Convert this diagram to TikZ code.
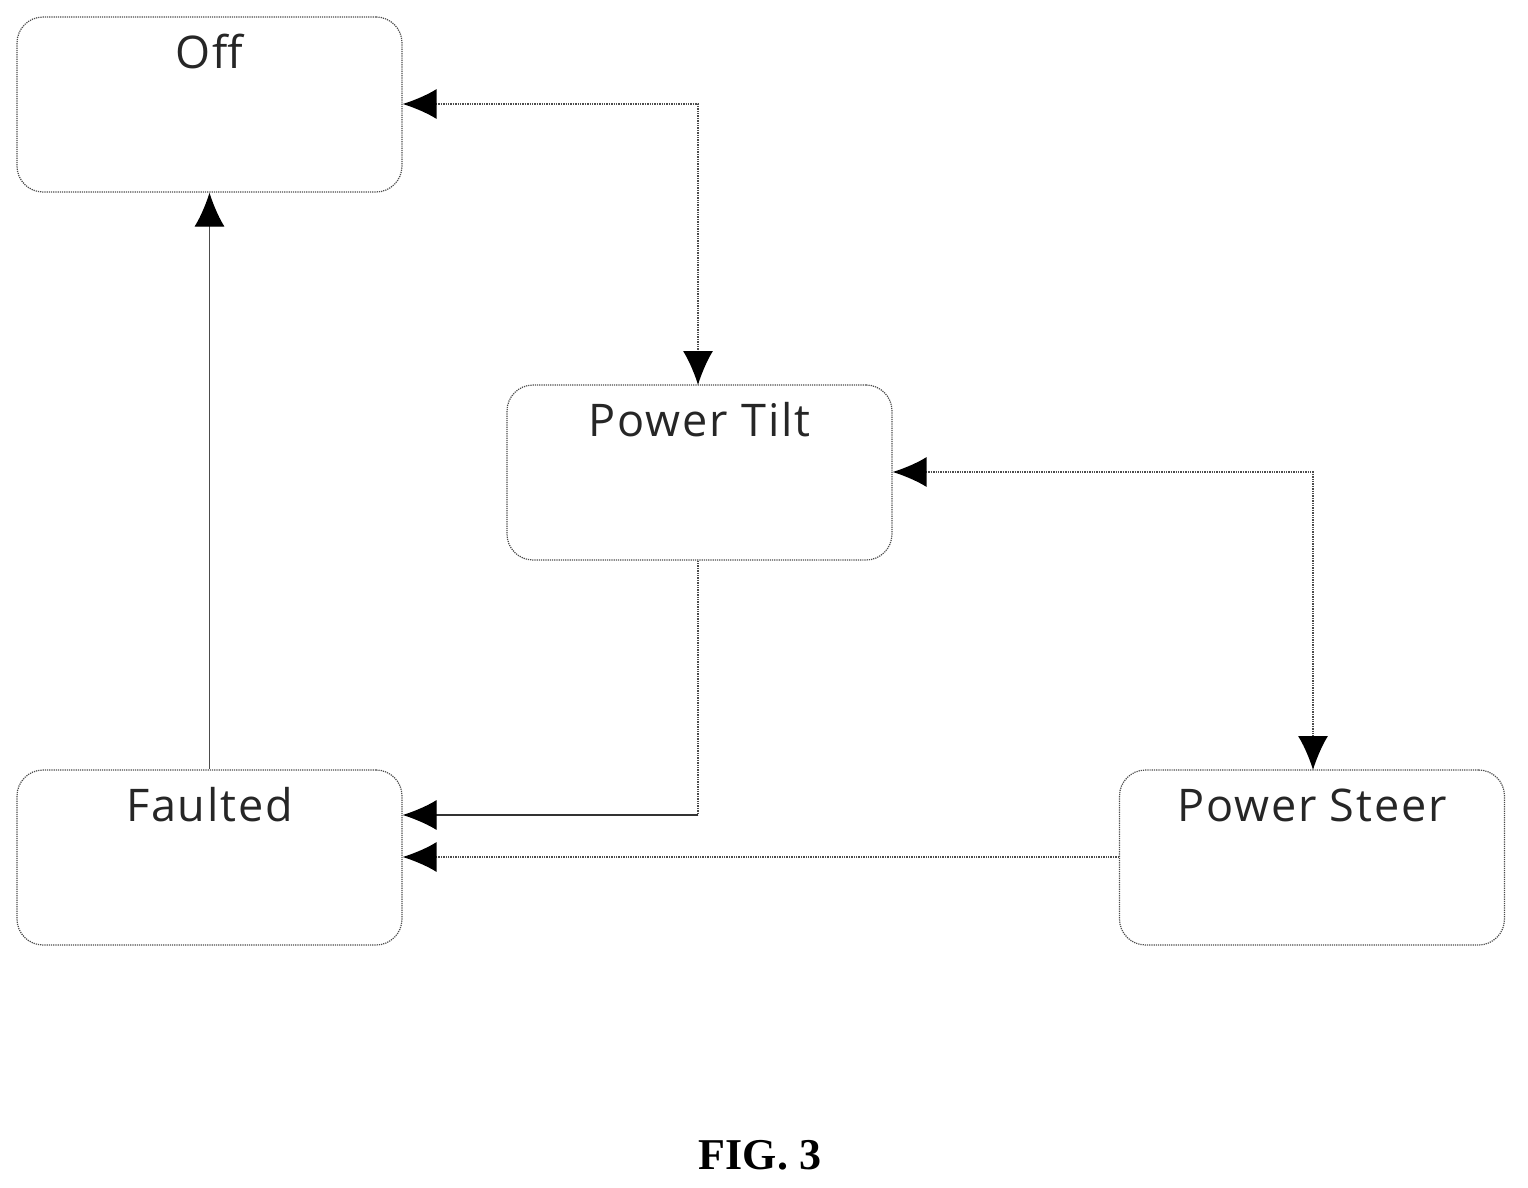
\documentclass[tikz,border=0pt]{standalone}
\usepackage{fontspec}
\setmainfont{Open Sans}[LetterSpace=4]
\newfontfamily\figfont{Liberation Serif}
\usetikzlibrary{arrows.meta}
\begin{document}
\begin{tikzpicture}[x=1pt,y=-1pt,
  st/.style={draw=black!70,densely dotted,line width=1.2pt,rounded corners=26pt,minimum width=385pt,minimum height=175pt,inner sep=0pt},
  lbl/.style={font=\fontsize{45}{50}\selectfont,text=black!85},
  con/.style={draw=black!70,densely dotted,line width=1.4pt},
  ah/.tip={Latex[length=34pt,width=30pt,black]},
  tip/.style={-ah},
  btip/.style={ah-ah}]
\useasboundingbox (0,0) rectangle (1528,1188);
\node[st] (off) at (209.5,104.5) {};
\node[st] (tilt) at (699.5,472.5) {};
\node[st] (fault) at (209.5,857.5) {};
\node[st] (steer) at (1312,857.5) {};
\node[lbl] at (209.5,52) {Off};
\node[lbl] at (699.5,420) {Power Tilt};
\node[lbl] at (209.5,805) {Faulted};
\node[lbl] at (1312,805) {Power Steer};
\draw[con,btip] (off.east |- 0,104) -- (698,104) -- (698,385);
\draw[con,btip] (tilt.east |- 0,472) -- (1313,472) -- (1313,770);
\draw[draw=black!70,line width=1.2pt,tip] (fault.north) -- (off.south);
\draw[con] (tilt.south -| 698,0) -- (698,815);
\draw[draw=black!80,line width=1.2pt,tip] (698,815) -- (fault.east |- 0,815);
\coordinate (sl) at (1119,857);
\draw[con,tip] (sl) -- (fault.east |- 0,857);
\node[font=\figfont\bfseries\fontsize{44}{48}\selectfont] (cap) at (760,1155) {FIG. 3};
\end{tikzpicture}
\end{document}
